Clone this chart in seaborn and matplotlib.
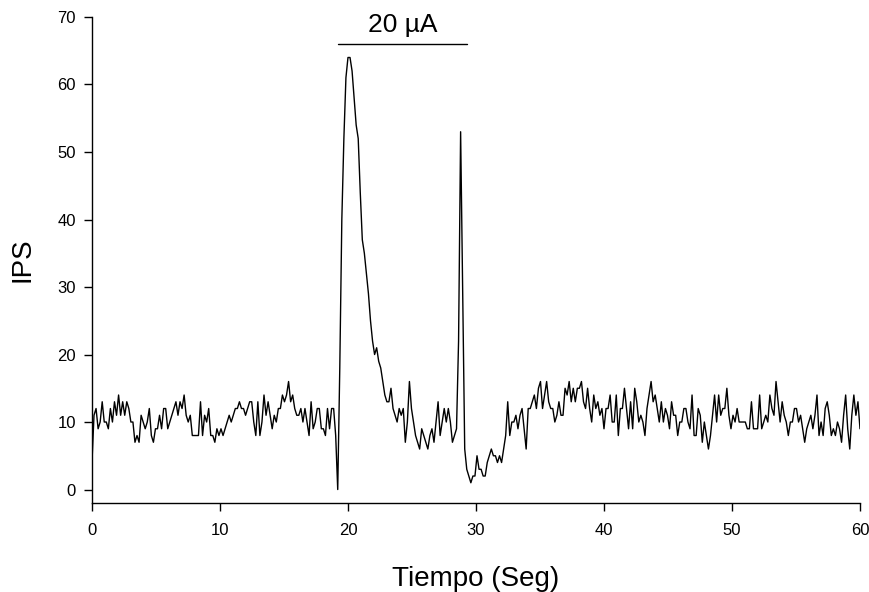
"""IPS trace before, during and after a 20 uA stimulus."""
import matplotlib
matplotlib.use('Agg')
import matplotlib.pyplot as plt
import numpy as np
import pandas as pd
import seaborn as sns

# IPS values, one every ~0.16 s
ips_basal = [
    4, 11, 12, 9, 10, 13, 10, 10, 9, 12,
    10, 13, 11, 14, 11, 13, 11, 13, 12, 10,
    10, 7, 8, 7, 11, 10, 9, 10, 12, 8,
    7, 9, 9, 11, 9, 12, 12, 9, 10, 11,
    12, 13, 11, 13, 12, 14, 11, 10, 11, 8,
    8, 8, 8, 13, 8, 11, 10, 12, 8, 8,
    7, 9, 8,
    9, 8, 9, 10, 11, 10, 11, 12, 12, 13,
    12, 12, 11, 12, 13, 13, 10, 8, 13, 8,
    10, 14, 11, 13, 11, 9, 11, 10, 12, 12,
    14, 13, 14, 16, 13, 14, 12, 11, 11, 12,
    10, 12, 10, 8, 13, 9, 10, 12, 12, 9,
    9, 8, 12, 9, 12, 12, 8,
]
ips_respuesta = [
    0, 18, 40, 52, 61, 64, 64, 62, 58, 54,
    52, 44, 37, 35, 32, 29, 25, 22, 20, 21,
    19, 18, 16, 14, 13, 13, 15, 12, 11, 10,
    12, 11, 12, 7, 10, 16,
    12, 10, 8, 7, 6, 9, 8, 7, 6, 8,
    9, 7, 10, 13, 8, 10, 12, 10, 12, 10,
    7, 8, 9,
    22, 53, 30, 6,
]
ips_recuperacion = [
    3, 2, 1, 2, 2, 5, 3, 3, 2, 2,
    4, 5, 6, 5, 5, 4, 5, 4, 6, 8,
    13, 8, 10, 10, 11, 9, 11, 12, 9, 6,
    12, 12, 13, 14, 12, 15, 16, 12, 14, 16,
    13, 12, 12, 10, 11, 13, 11, 11, 15, 14,
    16, 13, 15, 13, 15, 15, 16, 13, 12, 15,
    12, 10, 14, 12, 13, 11, 12, 9, 12, 12,
    14,
    10, 10, 14, 8, 12, 12, 15, 12, 9, 13,
    9, 15, 13, 10, 11, 10, 8, 12, 14, 16,
    13, 14, 12, 10, 13, 10, 12, 11, 9, 13,
    11, 11, 8, 10, 10, 12, 12, 10, 9, 14,
    8, 8, 12, 11, 7, 10, 8, 6, 8, 11,
    14, 10, 14, 11, 12, 12, 15, 11, 9,
    11, 10, 12, 10, 10, 10, 10, 9, 9, 13,
    9, 9, 9, 14, 9, 10, 11, 10, 14, 12,
    11, 16, 13, 10, 13, 11, 10, 8, 10, 10,
    12, 12, 10, 11, 9, 7, 9, 10, 11, 9,
    11, 14, 8, 10, 8, 12, 13, 11, 8, 9,
    8, 10, 9, 7, 11, 14, 9, 6, 11, 14,
    11, 13, 9,
]

ips = ips_basal + ips_respuesta + ips_recuperacion
tiempo = np.linspace(0, 60, len(ips))
df = pd.DataFrame({'Tiempo': tiempo, 'IPS': ips})

# stimulus bar (seconds) and its label
estimulo = (19.25, 29.3)
estimulo_texto = '20 µA'

sns.set_style('ticks')
plt.rcParams['font.family'] = ['Liberation Sans', 'DejaVu Sans']
plt.rcParams['text.color'] = 'black'
plt.rcParams['axes.labelcolor'] = 'black'

fig = plt.figure(figsize=(8.7, 5.92), dpi=100)
ax = fig.add_axes([0.1057, 0.1503, 0.8828, 0.821])
sns.lineplot(data=df, x='Tiempo', y='IPS', color='black', linewidth=1,
             estimator=None, ax=ax)

ax.set_xlim(0, 60)
ax.set_ylim(-2, 70)
ax.set_xticks(range(0, 61, 10))
ax.set_yticks(range(0, 71, 10))
ax.tick_params(direction='out', length=5.5, width=1, labelsize=12,
               colors='black')
ax.tick_params(axis='y', pad=6)
ax.tick_params(axis='x', pad=9)
ax.set_xlabel('Tiempo (Seg)', fontsize=20, labelpad=20)
ax.set_ylabel('IPS', fontsize=20, labelpad=16)

# stimulus marker
ax.plot(estimulo, [66, 66], color='black', linewidth=1, clip_on=False)
ax.text(sum(estimulo) / 2, 67.8, estimulo_texto, ha='center',
        va='baseline', fontsize=19)

for s in ['left', 'bottom']:
    ax.spines[s].set_linewidth(1)
    ax.spines[s].set_color('black')
sns.despine(ax=ax)

plt.savefig('out.png', dpi=100)
plt.close()
